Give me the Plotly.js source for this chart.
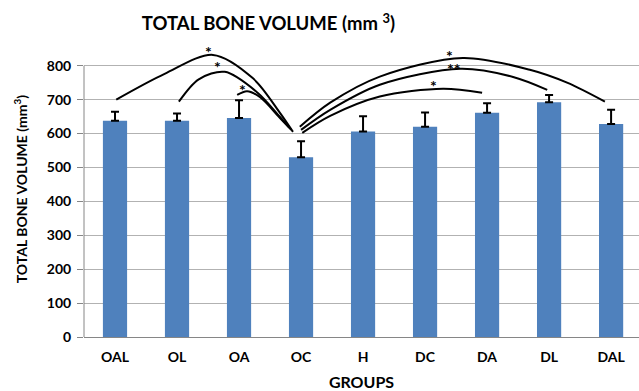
<!DOCTYPE html>
<html>
<head>
<meta charset="utf-8">
<script src="https://cdn.plot.ly/plotly-3.0.1.min.js"></script>
<style>
  html, body { margin: 0; padding: 0; background: #ffffff; }
  #chart { width: 639px; height: 391px; }
</style>
</head>
<body>
<div id="chart"></div>
<script>
// Group means and standard errors of total bone volume (mm³)
const groups = ['OAL', 'OL', 'OA', 'OC', 'H', 'DC', 'DA', 'DL', 'DAL'];
const volume = [638, 638, 646, 530, 606, 620, 661, 692, 628];
const volumeErr = [26, 21, 52, 47, 45, 42, 28, 22, 42];

// Significance arcs between OC and the other groups (x in group index units, y in mm³)
const sigLabels = ['*', '*', '*', '*', '**', '*'];
const sigArcX = [
  [0.02, 0.80, 1.58, 2.23, 2.66, 2.87],
  [1.03, 1.35, 1.77, 2.29, 2.66, 2.84],
  [1.97, 2.13, 2.34, 2.66, 2.81],
  [2.98, 3.47, 4.27, 5.61, 6.69, 7.29, 7.90],
  [3.00, 3.47, 4.27, 5.57, 6.42, 6.97],
  [3.02, 3.47, 4.27, 5.29, 5.92]
];
const sigArcY = [
  [700, 776, 832, 762, 661, 605],
  [694, 760, 782, 722, 649, 611],
  [714, 725, 707, 646, 617],
  [620, 691, 768, 823, 788, 750, 694],
  [611, 670, 744, 791, 767, 729],
  [602, 652, 709, 732, 720]
];
const sigMarkX = [1.50, 1.65, 2.05, 5.40, 5.47, 5.13];
const sigMarkY = [853, 809, 741, 841, 803, 753];

const idx = groups.map((g, i) => i);
const fontFamily = 'Lato, "Open Sans", sans-serif';

const traces = [{
  type: 'bar',
  x: idx,
  y: volume,
  marker: { color: '#4F81BD' },
  error_y: {
    type: 'data',
    symmetric: false,
    array: volumeErr,
    arrayminus: volumeErr.map(() => 0),
    color: '#000000',
    thickness: 2,
    width: 4
  },
  hoverinfo: 'x+y'
}];

sigArcX.forEach((xs, k) => {
  traces.push({
    type: 'scatter',
    mode: 'lines',
    x: xs,
    y: sigArcY[k],
    line: { color: '#000000', width: 2, shape: 'spline', smoothing: 0.9 },
    hoverinfo: 'skip',
    showlegend: false
  });
});

const annotations = sigLabels.map((t, k) => ({
  x: sigMarkX[k],
  y: sigMarkY[k],
  xref: 'x',
  yref: 'y',
  text: t,
  showarrow: false,
  yshift: -4,
  font: { family: fontFamily, size: 16, weight: 700, color: '#000000' }
}));

// vertical axis title, set off to the far left
annotations.push({
  x: -0.114,
  y: 0.5,
  xref: 'paper',
  yref: 'paper',
  yanchor: 'middle',
  xanchor: 'center',
  textangle: -90,
  text: 'TOTAL BONE VOLUME (mm<sup>3</sup>)',
  showarrow: false,
  font: { family: fontFamily, size: 14, weight: 700, color: '#000000' }
});

// left axis line stops at the top gridline
const shapes = [{
  type: 'line',
  xref: 'paper', yref: 'y',
  x0: 0, x1: 0, y0: 0, y1: 800,
  line: { color: '#868686', width: 1 }
}];

const layout = {
  width: 639,
  height: 391,
  margin: { l: 84, r: 0, t: 42, b: 54 },
  paper_bgcolor: '#ffffff',
  plot_bgcolor: '#ffffff',
  showlegend: false,
  bargap: 0.61,
  font: { family: fontFamily, color: '#000000' },
  title: {
    text: 'TOTAL BONE VOLUME (mm <sup>3</sup>)',
    xref: 'container', yref: 'container',
    x: 0.222, xanchor: 'left',
    y: 0.939, yanchor: 'middle',
    font: { family: fontFamily, size: 18.5, weight: 700, color: '#000000' }
  },
  xaxis: {
    range: [-0.5, 8.45],
    tickvals: idx,
    ticktext: groups,
    showgrid: false,
    zeroline: false,
    showline: true,
    linecolor: '#868686',
    linewidth: 1,
    ticks: '',
    ticklabelstandoff: 7,
    tickfont: { family: fontFamily, size: 14, weight: 700, color: '#000000' },
    title: {
      text: 'GROUPS',
      font: { family: fontFamily, size: 16, weight: 700, color: '#000000' }
    },
    fixedrange: true
  },
  yaxis: {
    range: [0, 870],
    tickvals: [0, 100, 200, 300, 400, 500, 600, 700, 800],
    showgrid: true,
    gridcolor: '#B2B2B2',
    gridwidth: 1,
    zeroline: false,
    showline: false,
    ticks: 'outside',
    ticklen: 6,
    tickcolor: '#868686',
    ticklabelstandoff: 3,
    tickfont: { family: fontFamily, size: 14, weight: 700, color: '#000000' },
    fixedrange: true
  },
  shapes: shapes,
  annotations: annotations
};

Plotly.newPlot('chart', traces, layout, { displayModeBar: false, staticPlot: true });
</script>
</body>
</html>
